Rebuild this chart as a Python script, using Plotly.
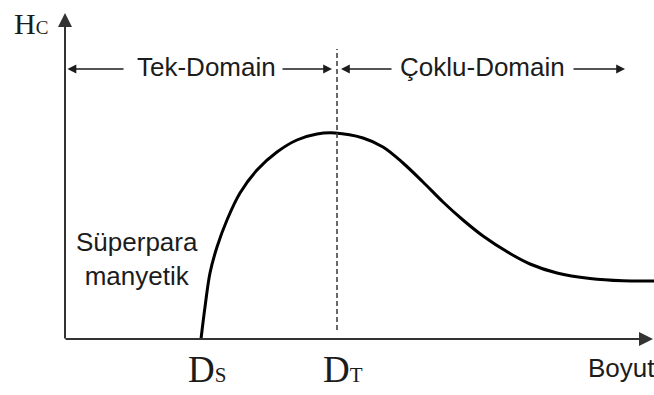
import plotly.graph_objects as go

# Coercivity H_C versus particle size (arbitrary units)
size = [13.6, 14.0, 14.5, 15.2, 16.2, 17.5, 19.2, 21.2, 23.2, 25.2, 27.0,
        29.8, 31.8, 33.8, 35.8, 37.8, 39.8, 41.8, 44.5, 46.5, 49.2, 52.5, 55.8, 58.9]
coercivity = [0.0, 3.2, 6.6, 9.2, 11.9, 14.6, 16.9, 18.7, 19.9, 20.5, 20.6,
              20.1, 19.2, 17.6, 15.7, 13.7, 11.9, 10.3, 8.55, 7.5, 6.6, 6.05, 5.82, 5.8]

d_s = 13.6          # superparamagnetic limit
d_t = 27.2          # single/multi-domain transition
x_end = 58.8        # end of the size axis
y_end = 32.6        # end of the H_C axis
region_y = 27.0     # height of the domain-range arrows

SANS = "Liberation Sans, Arial, sans-serif"
SERIF = "Liberation Serif, Times New Roman, serif"
INK = "#1c1c1c"

fig = go.Figure()

fig.add_trace(go.Scatter(
    x=size, y=coercivity, mode="lines",
    line=dict(color="#000000", width=3, shape="spline", smoothing=1.0),
    hoverinfo="skip", showlegend=False,
))

# Dashed boundary at D_T
fig.add_shape(type="line", x0=d_t, x1=d_t, y0=0.9, y1=29.0,
              line=dict(color="#444444", width=1.6, dash="5px,3px"))

ann = []


def arrow(x_tail, y_tail, x_head, y_head, size=1.0, width=1.6, color=INK):
    ann.append(dict(
        x=x_head, y=y_head, ax=x_tail, ay=y_tail,
        xref="x", yref="y", axref="x", ayref="y",
        text="", showarrow=True, arrowhead=2, arrowsize=size,
        arrowwidth=width, arrowcolor=color, standoff=0, startstandoff=0,
    ))


# Axes with arrowheads
arrow(0, -0.1, 0, y_end, size=1.4, width=2.0, color="#333333")
arrow(-0.1, 0, x_end, 0, size=1.4, width=2.0, color="#333333")

# Domain-range arrows
arrow(6.0, region_y, 0.25, region_y, size=1.1)
arrow(21.6, region_y, 26.7, region_y, size=1.1)
arrow(32.8, region_y, 27.6, region_y, size=1.1)
arrow(50.7, region_y, 56.0, region_y, size=1.1)


def label(x, y, text, font, size, xanchor="center", yanchor="middle", xshift=0, yshift=0):
    ann.append(dict(
        x=x, y=y, xref="x", yref="y", text=text, showarrow=False,
        xanchor=xanchor, yanchor=yanchor, xshift=xshift, yshift=yshift,
        font=dict(family=font, size=size, color=INK),
    ))


label(14.15, region_y, "Tek-Domain", SANS, 26, yshift=2)
label(41.7, region_y, "Çoklu-Domain", SANS, 26, yshift=2)
label(7.2, 8.0, "Süperpara<br>manyetik", SANS, 26)
label(-5.3, 31.6, "H<span style='font-size:19px'>C</span>", SERIF, 30, xanchor="left")
label(d_s, -3.0, "D<span style='font-size:21px'>S</span>", SERIF, 37, xshift=6)
label(d_t, -3.0, "D<span style='font-size:21px'>T</span>", SERIF, 37, xshift=6)
label(52.1, -2.9, "Boyut", SANS, 26, xanchor="left")

fig.update_layout(
    width=654, height=395, autosize=False,
    margin=dict(l=0, r=0, t=0, b=0),
    paper_bgcolor="white", plot_bgcolor="white",
    xaxis=dict(range=[-6.5, 58.9], visible=False, fixedrange=True),
    yaxis=dict(range=[-5.6, 33.9], visible=False, fixedrange=True),
    annotations=ann,
    showlegend=False,
)

fig.write_html("out.html", config={"displayModeBar": False})
